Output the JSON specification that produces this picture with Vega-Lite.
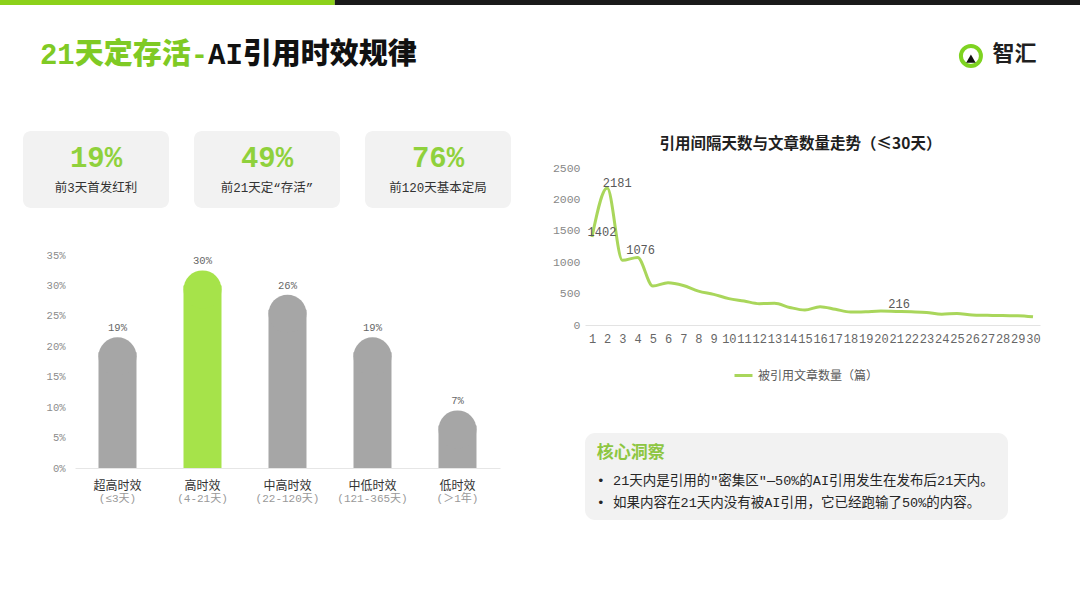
{
  "$schema": "https://vega.github.io/schema/vega-lite/v6.json",
  "background": "white",
  "padding": 0,
  "spacing": 0,
  "bounds": "flush",
  "config": {
    "view": {"stroke": null},
    "font": "Noto Sans CJK SC",
    "axis": {"grid": false, "ticks": false, "title": null}
  },
  "vconcat": [
    {
      "width": 1080,
      "height": 131,
      "layer": [
        {
          "data": {"values": [{"segment": "accent"}]},
          "mark": {"type": "rect", "color": "#8cd11a"},
          "encoding": {
            "x": {"datum": 0, "type": "quantitative", "scale": {"domain": [0, 1]}, "axis": null},
            "x2": {"datum": 0.31},
            "y": {"datum": 1, "type": "quantitative", "scale": {"domain": [0, 1]}, "axis": null},
            "y2": {"datum": 0.962}
          }
        },
        {
          "data": {"values": [{"segment": "dark"}]},
          "mark": {"type": "rect", "color": "#1a1a1a"},
          "encoding": {
            "x": {"datum": 0.31, "type": "quantitative", "scale": {"domain": [0, 1]}, "axis": null},
            "x2": {"datum": 1},
            "y": {"datum": 1, "type": "quantitative", "scale": {"domain": [0, 1]}, "axis": null},
            "y2": {"datum": 0.962}
          }
        },
        {
          "data": {"values": [{"part": "21天定存活-"}]},
          "mark": {"type": "text", "align": "left", "baseline": "middle", "font": "Liberation Mono, Noto Sans CJK SC", "fontSize": 29, "fontWeight": 900, "color": "#7fca24"},
          "encoding": {
            "x": {"datum": 0.037, "type": "quantitative", "scale": {"domain": [0, 1]}, "axis": null},
            "y": {"datum": 0.58, "type": "quantitative", "scale": {"domain": [0, 1]}, "axis": null},
            "text": {"field": "part"}
          }
        },
        {
          "data": {"values": [{"part": "AI引用时效规律"}]},
          "mark": {"type": "text", "align": "left", "baseline": "middle", "font": "Liberation Mono, Noto Sans CJK SC", "fontSize": 29, "fontWeight": 900, "color": "#111111"},
          "encoding": {
            "x": {"datum": 0.1926, "type": "quantitative", "scale": {"domain": [0, 1]}, "axis": null},
            "y": {"datum": 0.58, "type": "quantitative", "scale": {"domain": [0, 1]}, "axis": null},
            "text": {"field": "part"}
          }
        },
        {
          "data": {"values": [{"brand": "智汇"}]},
          "mark": {"type": "point", "shape": "circle", "size": 400, "filled": false, "stroke": "#7ed321", "strokeWidth": 4, "opacity": 1},
          "encoding": {
            "x": {"datum": 0.899, "type": "quantitative", "scale": {"domain": [0, 1]}, "axis": null},
            "y": {"datum": 0.573, "type": "quantitative", "scale": {"domain": [0, 1]}, "axis": null}
          }
        },
        {
          "data": {"values": [{"brand": "智汇"}]},
          "mark": {"type": "point", "shape": "triangle-up", "size": 90, "filled": true, "color": "#111111", "opacity": 1},
          "encoding": {
            "x": {"datum": 0.899, "type": "quantitative", "scale": {"domain": [0, 1]}, "axis": null},
            "y": {"datum": 0.552, "type": "quantitative", "scale": {"domain": [0, 1]}, "axis": null}
          }
        },
        {
          "data": {"values": [{"brand": "智汇"}]},
          "mark": {"type": "text", "align": "left", "baseline": "middle", "fontSize": 22, "fontWeight": 700, "color": "#1f1f1f"},
          "encoding": {
            "x": {"datum": 0.919, "type": "quantitative", "scale": {"domain": [0, 1]}, "axis": null},
            "y": {"datum": 0.585, "type": "quantitative", "scale": {"domain": [0, 1]}, "axis": null},
            "text": {"field": "brand"}
          }
        }
      ]
    },
    {
      "spacing": 18,
      "bounds": "full",
      "hconcat": [
        {
          "spacing": 47,
          "bounds": "flush",
          "vconcat": [
            {
              "width": 534,
              "height": 77,
              "data": {"values": [
                {"milestone": "前3天首发红利", "share": 0.19},
                {"milestone": "前21天定“存活”", "share": 0.49},
                {"milestone": "前120天基本定局", "share": 0.76}
              ]},
              "encoding": {
                "x": {"field": "milestone", "type": "nominal", "sort": null, "axis": null, "scale": {"paddingInner": 0.146, "paddingOuter": 0.1345}}
              },
              "layer": [
                {
                  "mark": {"type": "bar", "color": "#f2f2f2", "cornerRadius": 8},
                  "encoding": {
                    "y": {"datum": 0, "type": "quantitative", "scale": {"domain": [0, 1]}, "axis": null},
                    "y2": {"datum": 1}
                  }
                },
                {
                  "mark": {"type": "text", "font": "Liberation Mono", "fontWeight": "bold", "fontSize": 29, "color": "#8fd13c", "baseline": "middle"},
                  "encoding": {
                    "y": {"datum": 0.65, "type": "quantitative", "scale": {"domain": [0, 1]}, "axis": null},
                    "text": {"field": "share", "type": "quantitative", "format": ".0%"}
                  }
                },
                {
                  "mark": {"type": "text", "font": "Liberation Mono, Noto Sans CJK SC", "fontSize": 12.5, "color": "#333333", "baseline": "middle"},
                  "encoding": {
                    "y": {"datum": 0.26, "type": "quantitative", "scale": {"domain": [0, 1]}, "axis": null},
                    "text": {"field": "milestone"}
                  }
                }
              ]
            },
            {
              "spacing": 0,
              "bounds": "flush",
              "hconcat": [
                {"width": 75, "height": 1, "data": {"values": []}, "mark": "point", "encoding": {}},
                {
                  "width": 425,
                  "height": 213,
                  "data": {"values": [
                    {"tier": "超高时效", "span": "(≤3天)", "share": 0.19},
                    {"tier": "高时效", "span": "(4-21天)", "share": 0.30},
                    {"tier": "中高时效", "span": "(22-120天)", "share": 0.26},
                    {"tier": "中低时效", "span": "(121-365天)", "share": 0.19},
                    {"tier": "低时效", "span": "(＞1年)", "share": 0.07}
                  ]},
                  "encoding": {
                    "x": {
                      "field": "tier", "type": "nominal", "sort": null,
                      "scale": {"paddingInner": 0.553, "paddingOuter": 0.2765},
                      "axis": {"labelAngle": 0, "labelFontSize": 12, "labelColor": "#333333", "labelPadding": 12, "domainColor": "#e6e6e6"}
                    },
                    "y": {
                      "field": "share", "type": "quantitative",
                      "scale": {"domain": [0, 0.35], "nice": false},
                      "axis": {"values": [0, 0.05, 0.1, 0.15, 0.2, 0.25, 0.3, 0.35], "format": ".0%", "domain": false, "labelFont": "Liberation Mono", "labelFontSize": 10.5, "labelColor": "#8c8c8c", "labelPadding": 10}
                    },
                    "color": {"condition": {"test": "datum.tier === '高时效'", "value": "#a6e34a"}, "value": "#a6a6a6"}
                  },
                  "layer": [
                    {"mark": {"type": "bar"}},
                    {"mark": {"type": "point", "shape": "circle", "size": 1444, "filled": true, "opacity": 1, "yOffset": 4}},
                    {
                      "mark": {"type": "text", "font": "Liberation Mono", "fontSize": 10.5, "baseline": "middle", "dy": -24},
                      "encoding": {"color": {"value": "#666666"}, "text": {"field": "share", "type": "quantitative", "format": ".0%"}}
                    },
                    {
                      "mark": {"type": "text", "font": "Liberation Mono, Noto Sans CJK SC", "fontSize": 11, "baseline": "middle", "dy": 31},
                      "encoding": {"y": {"datum": 0}, "color": {"value": "#999999"}, "text": {"field": "span"}}
                    }
                  ]
                }
              ]
            }
          ]
        },
        {
          "spacing": 36,
          "bounds": "flush",
          "vconcat": [
            {"width": 1, "height": 1, "data": {"values": []}, "mark": "point", "encoding": {}},
            {
              "spacing": 108,
              "bounds": "flush",
              "vconcat": [
                {
                  "width": 455,
                  "height": 157,
                  "title": {"text": "引用间隔天数与文章数量走势（≤30天）", "fontSize": 15.5, "fontWeight": "bold", "color": "#1f1f1f", "offset": 10, "anchor": "middle", "dx": -12},
                  "data": {"values": [
                    {"day": 1, "count": 1402}, {"day": 2, "count": 2181}, {"day": 3, "count": 1030},
                    {"day": 4, "count": 1076}, {"day": 5, "count": 620}, {"day": 6, "count": 673},
                    {"day": 7, "count": 630}, {"day": 8, "count": 540}, {"day": 9, "count": 488},
                    {"day": 10, "count": 420}, {"day": 11, "count": 382}, {"day": 12, "count": 340},
                    {"day": 13, "count": 345}, {"day": 14, "count": 280}, {"day": 15, "count": 238},
                    {"day": 16, "count": 292}, {"day": 17, "count": 250}, {"day": 18, "count": 207},
                    {"day": 19, "count": 212}, {"day": 20, "count": 222}, {"day": 21, "count": 216},
                    {"day": 22, "count": 210}, {"day": 23, "count": 200}, {"day": 24, "count": 170},
                    {"day": 25, "count": 185}, {"day": 26, "count": 160}, {"day": 27, "count": 155},
                    {"day": 28, "count": 150}, {"day": 29, "count": 148}, {"day": 30, "count": 130}
                  ]},
                  "encoding": {
                    "x": {
                      "field": "day", "type": "ordinal",
                      "scale": {"type": "point", "padding": 0.46},
                      "axis": {"labelAngle": 0, "labelOverlap": false, "labelFont": "Liberation Mono", "labelFontSize": 12, "labelColor": "#666666", "labelPadding": 8, "domainColor": "#e3e3e3"}
                    },
                    "y": {
                      "field": "count", "type": "quantitative",
                      "scale": {"domain": [0, 2500], "nice": false},
                      "axis": {"values": [0, 500, 1000, 1500, 2000, 2500], "format": "d", "domain": false, "labelFont": "Liberation Mono", "labelFontSize": 11.5, "labelColor": "#888888", "labelPadding": 5}
                    }
                  },
                  "layer": [
                    {
                      "mark": {"type": "line", "interpolate": "monotone", "strokeWidth": 3},
                      "encoding": {
                        "color": {
                          "datum": "被引用文章数量（篇）",
                          "scale": {"range": ["#a9d65b"]},
                          "legend": {"orient": "none", "legendX": 733, "legendY": 365, "direction": "horizontal", "title": null, "symbolType": "stroke", "symbolStrokeWidth": 3, "symbolSize": 324, "labelFontSize": 12, "labelColor": "#595959"}
                        }
                      }
                    },
                    {
                      "transform": [{"filter": "datum.day <= 2"}],
                      "mark": {"type": "text", "font": "Liberation Mono", "fontSize": 12, "color": "#595959", "baseline": "middle", "dx": 10, "dy": -5},
                      "encoding": {"text": {"field": "count", "type": "quantitative", "format": "d"}}
                    },
                    {
                      "transform": [{"filter": "datum.day == 4 || datum.day == 21"}],
                      "mark": {"type": "text", "font": "Liberation Mono", "fontSize": 12, "color": "#595959", "baseline": "middle", "dx": 3, "dy": -7},
                      "encoding": {"text": {"field": "count", "type": "quantitative", "format": "d"}}
                    }
                  ]
                },
                {
                  "width": 423,
                  "height": 87,
                  "view": {"fill": "#f2f2f2", "cornerRadius": 10, "stroke": null},
                  "data": {"values": [
                    {"row": 0, "text": "核心洞察"},
                    {"row": 1, "text": "• 21天内是引用的\"密集区\"—50%的AI引用发生在发布后21天内。"},
                    {"row": 2, "text": "• 如果内容在21天内没有被AI引用，它已经跑输了50%的内容。"}
                  ]},
                  "encoding": {
                    "x": {"datum": 0.028, "type": "quantitative", "scale": {"domain": [0, 1]}, "axis": null}
                  },
                  "layer": [
                    {
                      "transform": [{"filter": "datum.row == 0"}],
                      "mark": {"type": "text", "align": "left", "baseline": "middle", "fontSize": 17, "fontWeight": "bold", "color": "#8dc641"},
                      "encoding": {
                        "y": {"datum": 0.77, "type": "quantitative", "scale": {"domain": [0, 1]}, "axis": null},
                        "text": {"field": "text"}
                      }
                    },
                    {
                      "transform": [{"filter": "datum.row == 1"}],
                      "mark": {"type": "text", "align": "left", "baseline": "middle", "font": "Liberation Mono, Noto Sans CJK SC", "fontSize": 13.5, "color": "#262626"},
                      "encoding": {
                        "y": {"datum": 0.448, "type": "quantitative", "scale": {"domain": [0, 1]}, "axis": null},
                        "text": {"field": "text"}
                      }
                    },
                    {
                      "transform": [{"filter": "datum.row == 2"}],
                      "mark": {"type": "text", "align": "left", "baseline": "middle", "font": "Liberation Mono, Noto Sans CJK SC", "fontSize": 13.5, "color": "#262626"},
                      "encoding": {
                        "y": {"datum": 0.195, "type": "quantitative", "scale": {"domain": [0, 1]}, "axis": null},
                        "text": {"field": "text"}
                      }
                    }
                  ]
                }
              ]
            }
          ]
        }
      ]
    }
  ]
}
